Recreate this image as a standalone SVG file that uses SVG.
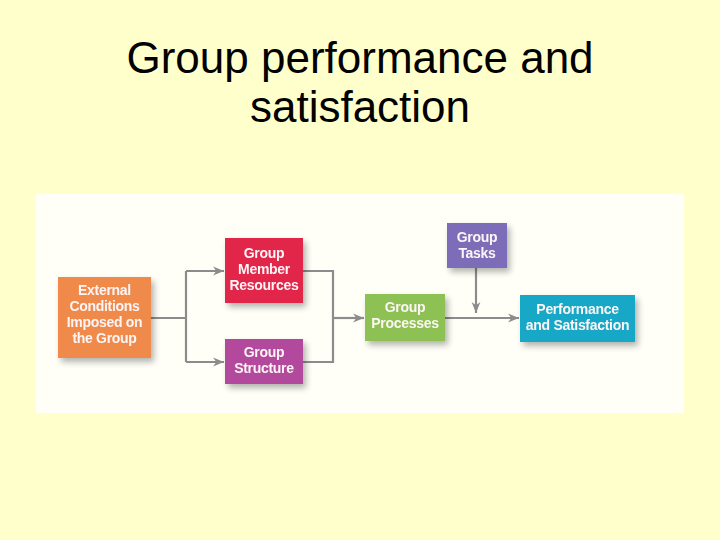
<svg xmlns="http://www.w3.org/2000/svg" width="720" height="540" viewBox="0 0 720 540">
<style>
.title{font-family:"Liberation Sans",Arial,sans-serif;font-size:44px;fill:#000;text-anchor:middle}
.lbl{font-family:"Liberation Sans",Arial,sans-serif;font-size:14px;font-weight:bold;fill:#fdf5f5;text-anchor:middle;letter-spacing:-0.3px}
.conn{fill:none;stroke:#8c8c8c;stroke-width:2.2}
</style>
<defs>
<filter id="sh" x="-20%" y="-20%" width="150%" height="160%">
<feGaussianBlur in="SourceAlpha" stdDeviation="3"/>
<feOffset dx="3" dy="4" result="b"/>
<feComponentTransfer><feFuncA type="linear" slope="0.3"/></feComponentTransfer>
<feMerge><feMergeNode/><feMergeNode in="SourceGraphic"/></feMerge>
</filter>
<marker id="ah" viewBox="0 0 10 10" refX="10" refY="5" markerWidth="5" markerHeight="5" orient="auto" markerUnits="strokeWidth">
<path d="M0,1 L10,5 L0,9 L3,5 Z" fill="#8c8c8c"/>
</marker>
</defs>
<rect width="720" height="540" fill="#ffffcc"/>
<text class="title" x="360" y="73">Group performance and</text>
<text class="title" x="360" y="122">satisfaction</text>
<rect x="36" y="194" width="648" height="219" fill="#fffff8"/>
<g id="connectors">
<path class="conn" d="M151,318 H186"/>
<path class="conn" d="M186,271 V362"/>
<path class="conn" d="M186,271 H224" marker-end="url(#ah)"/>
<path class="conn" d="M186,362 H224" marker-end="url(#ah)"/>
<path class="conn" d="M303,271 H333 V362 H303"/>
<path class="conn" d="M333,318 H364" marker-end="url(#ah)"/>
<path class="conn" d="M445,318 H519" marker-end="url(#ah)"/>
<path class="conn" d="M476,268 V313" marker-end="url(#ah)"/>
</g>
<g id="external" filter="url(#sh)">
<rect x="58" y="277" width="93" height="81" fill="#f08a4b"/>
<text class="lbl" x="104.5" y="295">External</text>
<text class="lbl" x="104.5" y="311">Conditions</text>
<text class="lbl" x="104.5" y="327">Imposed on</text>
<text class="lbl" x="104.5" y="343">the Group</text>
</g>
<g id="member" filter="url(#sh)">
<rect x="225" y="238" width="78" height="65" fill="#e2254a"/>
<text class="lbl" x="264" y="258">Group</text>
<text class="lbl" x="264" y="274">Member</text>
<text class="lbl" x="264" y="289.5">Resources</text>
</g>
<g id="structure" filter="url(#sh)">
<rect x="225" y="339" width="78" height="45" fill="#b3489c"/>
<text class="lbl" x="264" y="357">Group</text>
<text class="lbl" x="264" y="372.5">Structure</text>
</g>
<g id="processes" filter="url(#sh)">
<rect x="365" y="294" width="80" height="47" fill="#8dc153"/>
<text class="lbl" x="405" y="312">Group</text>
<text class="lbl" x="405" y="327.5">Processes</text>
</g>
<g id="tasks" filter="url(#sh)">
<rect x="447" y="223" width="60" height="45" fill="#7d6db8"/>
<text class="lbl" x="477" y="242">Group</text>
<text class="lbl" x="477" y="257.5">Tasks</text>
</g>
<g id="performance" filter="url(#sh)">
<rect x="520" y="295" width="115" height="47" fill="#17a8c6"/>
<text class="lbl" x="577.5" y="313.5">Performance</text>
<text class="lbl" x="577.5" y="330">and Satisfaction</text>
</g>
</svg>
